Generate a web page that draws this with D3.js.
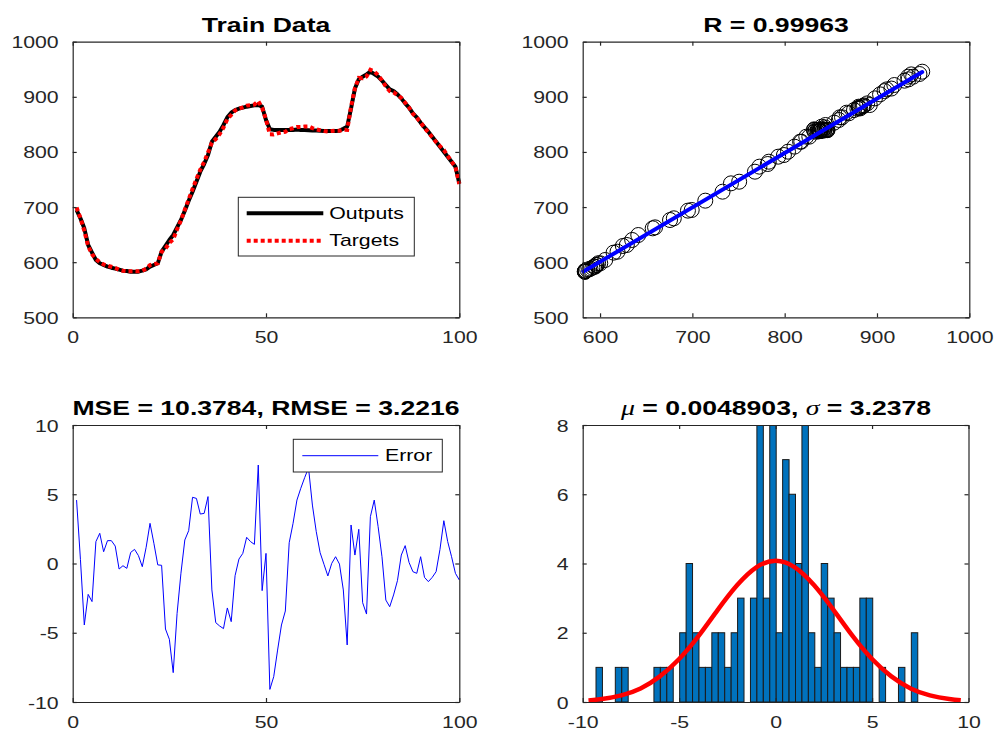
<!DOCTYPE html>
<html>
<head>
<meta charset="utf-8">
<script src="https://cdn.jsdelivr.net/npm/d3@7"></script>
<style>
  html, body { margin: 0; padding: 0; background: #fff; }
  text { font-family: "Liberation Sans", Arial, sans-serif; }
</style>
</head>
<body>
<div id="chart"></div>
<script>
// Data
const outputs = [694.7, 679.6, 661.4, 631.2, 617.3, 604, 598, 594.9, 591.9, 590,
  588.3, 586.5, 584.6, 584, 582.8, 582.8, 582.8, 584.6, 587, 591.9,
  594.9, 598, 619, 629.4, 640.3, 649.3, 663.2, 676.5, 693.5, 711.6,
  727.9, 746, 764.2, 778.1, 794.4, 818.6, 827.7, 836.8, 848.9, 862.8,
  871.2, 876, 878.5, 880.3, 882.1, 883.3, 884.5, 885.1, 882.1, 858,
  841, 840, 840, 840, 840, 840, 840, 840.5, 840, 840,
  839.5, 839, 838.8, 838.5, 838, 838, 838, 838, 838.5, 842,
  845.8, 879, 915, 931.7, 936.5, 940.7, 945.6, 941.4, 936.5, 929.3,
  921.4, 913.5, 910.5, 904.5, 897.2, 888.1, 880.3, 870, 862.8, 853.1,
  844.6, 836.8, 827.7, 818.6, 809.6, 800.5, 791.4, 782.3, 773.3, 743];

const targets = [699.3, 679.9, 657.0, 629.0, 614.6, 605.6, 600.2, 595.8, 593.6, 591.7,
  589.6, 586.1, 584.4, 583.7, 583.6, 583.8, 583.4, 584.4, 588.2, 594.8,
  596.4, 597.9, 618.9, 624.7, 634.8, 641.4, 659.6, 675.8, 695.2, 714.0,
  732.7, 750.7, 767.8, 781.7, 799.2, 816.7, 823.4, 832.3, 844.2, 859.6,
  867.0, 875.1, 878.8, 881.0, 884.0, 884.9, 885.9, 892.2, 880.1, 858.7,
  831.9, 831.8, 833.8, 835.6, 836.6, 841.5, 842.9, 845.1, 845.4, 846.2,
  846.4, 843.2, 841.1, 839.3, 837.9, 837.1, 838.0, 838.5, 838.5, 840.1,
  839.9, 881.8, 915.6, 934.2, 933.7, 937.1, 949.0, 946.0, 939.2, 929.8,
  918.8, 910.4, 908.2, 903.3, 897.8, 889.4, 880.4, 869.4, 862.1, 853.6,
  843.6, 835.5, 826.7, 818.0, 810.6, 803.6, 793.0, 782.8, 772.6, 741.8];

const errors = [4.58, 0.3, -4.44, -2.23, -2.75, 1.58, 2.18, 0.85, 1.65, 1.65,
  1.26, -0.4, -0.16, -0.35, 0.8, 1.02, 0.57, -0.23, 1.17, 2.9,
  1.46, -0.1, -0.13, -4.73, -5.47, -7.88, -3.6, -0.7, 1.7, 2.37,
  4.78, 4.7, 3.57, 3.62, 4.83, -1.91, -4.27, -4.51, -4.7, -3.21,
  -4.2, -0.88, 0.32, 0.73, 1.89, 1.58, 1.38, 7.11, -1.96, 0.73,
  -9.09, -8.17, -6.25, -4.44, -3.43, 1.5, 2.9, 4.58, 5.43, 6.2,
  6.9, 4.22, 2.3, 0.78, -0.06, -0.9, 0.01, 0.49, -0.04, -1.91,
  -5.88, 2.78, 0.61, 2.47, -2.83, -3.65, 3.38, 4.58, 2.66, 0.49,
  -2.64, -3.12, -2.27, -1.24, 0.61, 1.29, 0.08, -0.59, -0.71, 0.49,
  -1.0, -1.31, -1.0, -0.59, 1.02, 3.09, 1.58, 0.49, -0.71, -1.19];

// regression fit line (targets -> outputs)
const fitX = [582, 949];
const fitY = [583, 945];

// histogram of errors, 50 bins
const binStart = -9.31;
const binWidth = 0.3336;
const binCounts = [1, 0, 0, 1, 1, 0, 0, 0, 0, 1,
  1, 1, 0, 2, 4, 2, 1, 1, 2, 2,
  1, 2, 3, 0, 3, 8, 3, 8, 2, 7,
  6, 4, 8, 2, 1, 4, 3, 2, 1, 1,
  1, 3, 3, 0, 1, 0, 0, 1, 0, 2];

// fitted normal curve
const curveX = [-9.7, -9, -8, -7, -6, -5, -4, -3, -2, -1, 0, 1, 2, 3, 4, 5, 6, 7, 8, 9, 9.6];
const curveY = [0.046, 0.086, 0.19, 0.39, 0.74, 1.24, 1.9, 2.66, 3.37, 3.89, 4.08,
  3.89, 3.37, 2.66, 1.9, 1.24, 0.74, 0.39, 0.19, 0.086, 0.05];

// titles and ticks
const titles = ['Train Data', 'R = 0.99963', 'MSE = 10.3784, RMSE = 3.2216'];
const ticksIdx = [0, 50, 100];
const ticksVal = [500, 600, 700, 800, 900, 1000];
const ticksReg = [600, 700, 800, 900, 1000];
const ticksErr = [-10, -5, 0, 5, 10];
const ticksCnt = [0, 2, 4, 6, 8];

const SX = 1.33; // horizontal text stretch of the original figure
const AX = '#262626';

const svg = d3.select('#chart').append('svg')
  .attr('width', 998).attr('height', 731)
  .style('display', 'block');
svg.append('rect').attr('width', 998).attr('height', 731).attr('fill', '#fff');

// draw box, ticks and labels of one axes
function frame(x, y, xt, yt) {
  const [x0, x1] = x.range();
  const [yb, yt0] = y.range();
  const fmt = d => String(d);
  const g = svg.append('g');
  g.append('g').attr('transform', `translate(0,${yb})`)
    .call(d3.axisBottom(x).tickValues(xt).tickSize(-4).tickSizeOuter(0).tickFormat(fmt))
    .call(a => a.selectAll('text').attr('y', 0).attr('dy', 0)
      .attr('transform', `translate(0,26) scale(${SX},1)`));
  g.append('g').attr('transform', `translate(0,${yt0})`)
    .call(d3.axisTop(x).tickValues(xt).tickSize(-4).tickSizeOuter(0).tickFormat(''));
  g.append('g').attr('transform', `translate(${x0},0)`)
    .call(d3.axisLeft(y).tickValues(yt).tickSize(-4).tickSizeOuter(0).tickFormat(fmt))
    .call(a => a.selectAll('text').attr('x', 0).attr('dy', 0)
      .attr('transform', `translate(-14,6) scale(${SX},1)`));
  g.append('g').attr('transform', `translate(${x1},0)`)
    .call(d3.axisRight(y).tickValues(yt).tickSize(-4).tickSizeOuter(0).tickFormat(''));
  g.selectAll('path, line').attr('stroke', AX).attr('stroke-width', 1.2);
  g.selectAll('text').attr('fill', AX).attr('font-size', 16)
    .attr('font-family', '"Liberation Sans", Arial, sans-serif');
}

function title(x, y, txt) {
  return svg.append('text')
    .attr('text-anchor', 'middle')
    .attr('transform', `translate(${(x.range()[0] + x.range()[1]) / 2},${y.range()[1] - 10}) scale(${SX},1)`)
    .attr('font-size', 20).attr('font-weight', 'bold').attr('fill', '#000')
    .text(txt);
}

// ---------- Train Data ----------
const x1 = d3.scaleLinear().domain([0, 100]).range([72.7, 459.3]);
const y1 = d3.scaleLinear().domain([500, 1000]).range([317.3, 41.7]);
const line1 = d3.line().x((d, i) => x1(i + 1)).y(d => y1(d));
svg.append('path').datum(outputs).attr('d', line1)
  .attr('fill', 'none').attr('stroke', '#000').attr('stroke-width', 4)
  .attr('stroke-linejoin', 'round');
svg.append('path').datum(targets).attr('d', line1)
  .attr('fill', 'none').attr('stroke', '#ff0000').attr('stroke-width', 4)
  .attr('stroke-dasharray', '4,3');
frame(x1, y1, ticksIdx, ticksVal);
title(x1, y1, titles[0]);

const leg1 = svg.append('g').attr('transform', 'translate(238.3,197.3)');
leg1.append('rect').attr('width', 176).attr('height', 58.7)
  .attr('fill', '#fff').attr('stroke', AX).attr('stroke-width', 1);
leg1.append('line').attr('x1', 8.4).attr('x2', 85).attr('y1', 16).attr('y2', 16)
  .attr('stroke', '#000').attr('stroke-width', 4);
leg1.append('line').attr('x1', 8.4).attr('x2', 85).attr('y1', 43.4).attr('y2', 43.4)
  .attr('stroke', '#ff0000').attr('stroke-width', 4).attr('stroke-dasharray', '4,3');
[['Outputs', 16], ['Targets', 43.4]].forEach(([t, yy]) => {
  leg1.append('text').attr('transform', `translate(91,${yy + 5.5}) scale(${SX},1)`)
    .attr('font-size', 16).attr('fill', '#000').text(t);
});

// ---------- Regression ----------
const x2 = d3.scaleLinear().domain([581.2, 1000]).range([582.7, 969.3]);
const y2 = d3.scaleLinear().domain([500, 1000]).range([317.3, 41.7]);
svg.append('g').selectAll('circle')
  .data(targets).enter().append('circle')
  .attr('cx', d => x2(d)).attr('cy', (d, i) => y2(outputs[i])).attr('r', 7.5)
  .attr('fill', 'none').attr('stroke', '#000').attr('stroke-width', 1);
svg.append('line')
  .attr('x1', x2(fitX[0])).attr('y1', y2(fitY[0]))
  .attr('x2', x2(fitX[1])).attr('y2', y2(fitY[1]))
  .attr('stroke', '#0000ff').attr('stroke-width', 4).attr('stroke-linecap', 'round');
frame(x2, y2, ticksReg, ticksVal);
title(x2, y2, titles[1]);

// ---------- Error ----------
const x3 = d3.scaleLinear().domain([0, 100]).range([72.7, 459.3]);
const y3 = d3.scaleLinear().domain([-10, 10]).range([702, 425]);
svg.append('path').datum(errors)
  .attr('d', d3.line().x((d, i) => x3(i + 1)).y(d => y3(d)))
  .attr('fill', 'none').attr('stroke', '#0000ff').attr('stroke-width', 1);
const leg3 = svg.append('g').attr('transform', 'translate(293.3,439.3)');
leg3.append('rect').attr('width', 149).attr('height', 32.7)
  .attr('fill', '#fff').attr('stroke', AX).attr('stroke-width', 1);
leg3.append('line').attr('x1', 9).attr('x2', 85).attr('y1', 16.4).attr('y2', 16.4)
  .attr('stroke', '#0000ff').attr('stroke-width', 1);
leg3.append('text').attr('transform', `translate(91.7,22) scale(${SX},1)`)
  .attr('font-size', 16).attr('fill', '#000').text('Error');
frame(x3, y3, ticksIdx, ticksErr);
title(x3, y3, titles[2]);

// ---------- Histogram ----------
const x4 = d3.scaleLinear().domain([-10, 10]).range([582.7, 968.5]);
const y4 = d3.scaleLinear().domain([0, 8]).range([702, 425]);
svg.append('clipPath').attr('id', 'clip4').append('rect')
  .attr('x', 582.7).attr('y', 425).attr('width', 968.5 - 582.7).attr('height', 277);
svg.append('g').attr('clip-path', 'url(#clip4)')
  .selectAll('rect').data(binCounts.map((c, i) => ({ c, i })).filter(d => d.c > 0))
  .enter().append('rect')
  .attr('x', d => x4(binStart + d.i * binWidth))
  .attr('width', x4(binWidth) - x4(0))
  .attr('y', d => y4(d.c))
  .attr('height', d => y4(0) - y4(d.c))
  .attr('fill', '#0072bd').attr('stroke', '#1a1a1a').attr('stroke-width', 1);
svg.append('path').datum(curveX.map((v, i) => [v, curveY[i]]))
  .attr('d', d3.line().x(d => x4(d[0])).y(d => y4(d[1])).curve(d3.curveNatural))
  .attr('fill', 'none').attr('stroke', '#ff0000').attr('stroke-width', 4.5);
frame(x4, y4, ticksErr, ticksCnt);

const t4 = svg.append('text')
  .attr('text-anchor', 'middle')
  .attr('transform', `translate(776,${425 - 10}) scale(${SX},1)`)
  .attr('font-size', 20).attr('font-weight', 'bold').attr('fill', '#000');
t4.append('tspan').attr('font-family', '"Liberation Serif", serif')
  .attr('font-style', 'italic').attr('font-weight', 'normal').attr('font-size', 21).text('\u03bc');
t4.append('tspan').text(' = 0.0048903, ');
t4.append('tspan').attr('font-family', '"Liberation Serif", serif')
  .attr('font-style', 'italic').attr('font-weight', 'normal').attr('font-size', 21).text('\u03c3');
t4.append('tspan').text(' = 3.2378');
</script>
</body>
</html>
